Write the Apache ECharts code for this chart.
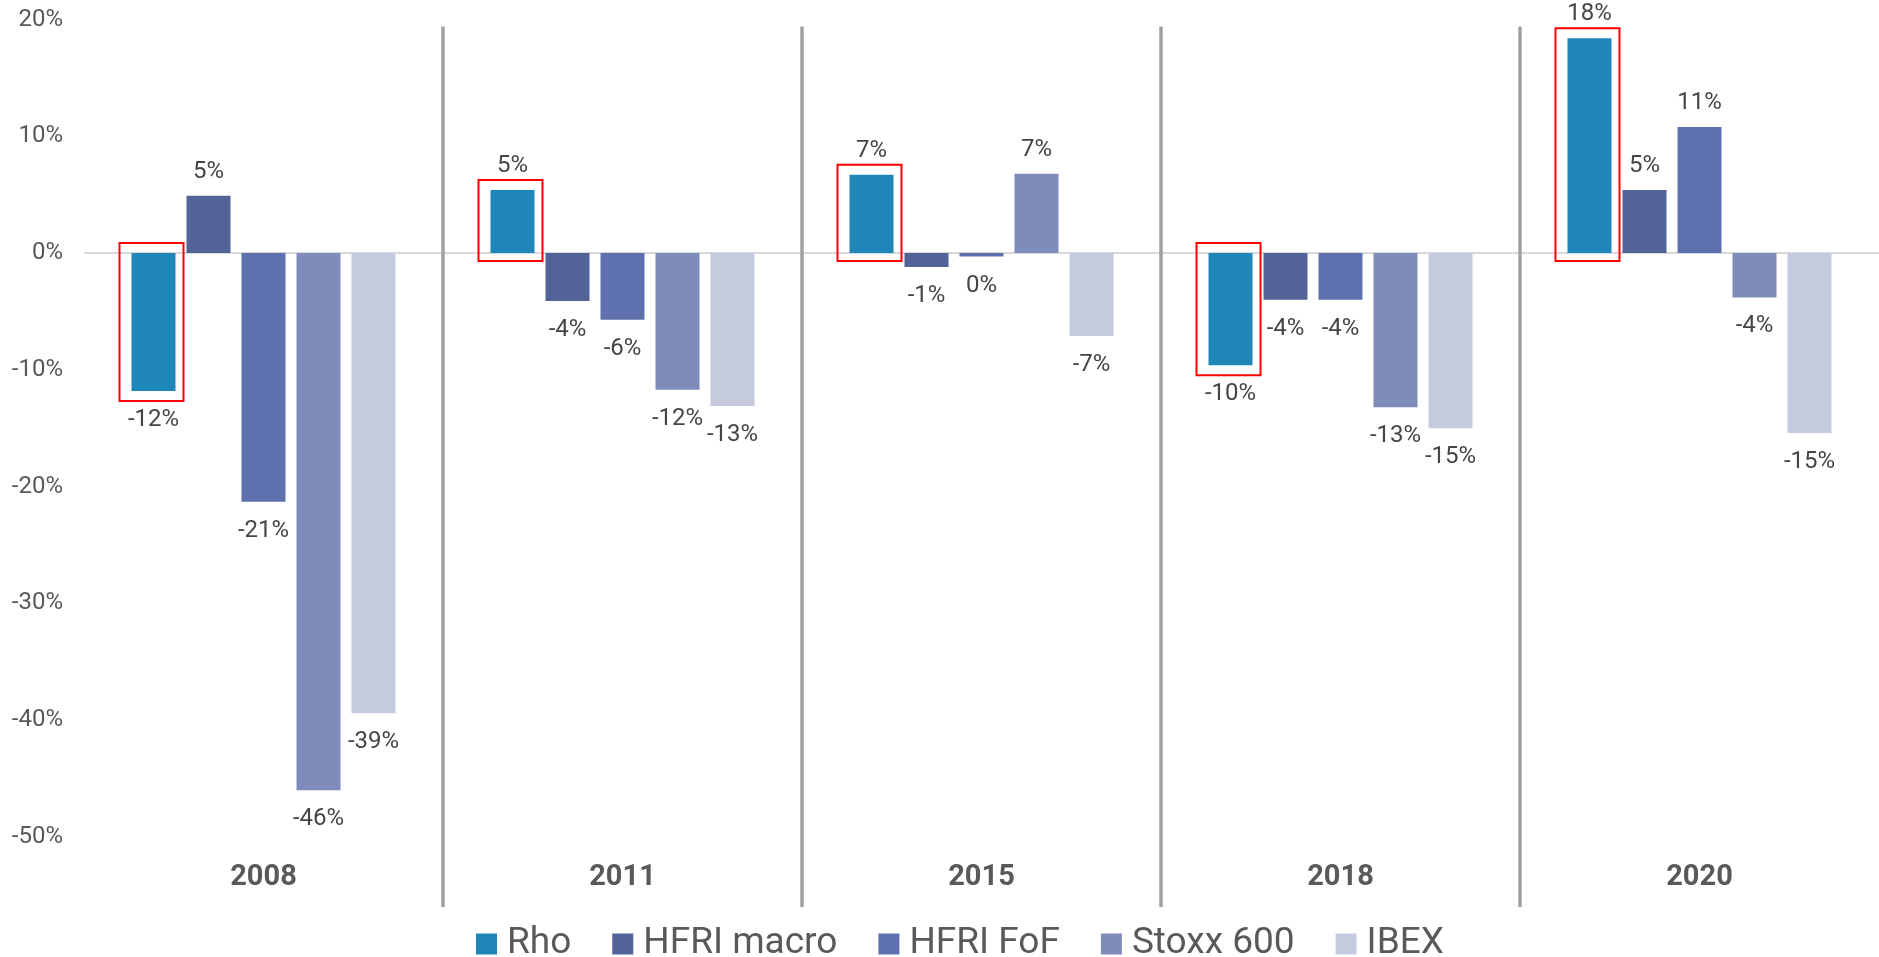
<!DOCTYPE html>
<html><head><meta charset="utf-8">
<script src="https://cdn.jsdelivr.net/npm/echarts@6/dist/echarts.min.js"></script>
<style>html,body{margin:0;padding:0;background:#fff}#c{width:1879px;height:957px}</style>
</head><body><div id="c"></div>
<script>
// ---- data ----
const categories = ['2008', '2011', '2015', '2018', '2020'];
const seriesNames = ['Rho', 'HFRI macro', 'HFRI FoF', 'Stoxx 600', 'IBEX'];
const rho       = [-11.8,  5.4,  6.7, -9.6, 18.4];
const hfriMacro = [  4.9, -4.1, -1.2, -4.0,  5.4];
const hfriFof   = [-21.3, -5.7, -0.3, -4.0, 10.8];
const stoxx600  = [-46.0,-11.7,  6.8,-13.2, -3.8];
const ibex      = [-39.4,-13.1, -7.1,-15.0,-15.4];
const yMin = -50, yMax = 20, yInterval = 10;

// ---- style ----
const colors = ['#1f87b8', '#526397', '#5e70ad', '#7f8cbb', '#c5cadf'];
const BAR_W = 44, BAR_GAP = 11;
const FONT = 'Roboto';
const values = [rho, hfriMacro, hfriFof, stoxx600, ibex];

const barSeries = values.map((arr, k) => ({
  name: seriesNames[k],
  type: 'bar',
  barWidth: BAR_W,
  barGap: (BAR_GAP / BAR_W * 100) + '%',
  itemStyle: { color: colors[k] },
  label: {
    show: true,
    formatter: p => `${Math.round(p.value)}%`,
    fontSize: 24, color: '#454545', fontFamily: FONT
  },
  data: arr.map(v => ({
    value: v,
    label: { position: v < 0 ? 'bottom' : 'top', distance: v < 0 ? 17 : 12 }
  })),
  z: 2
}));

barSeries[0].markLine = {
  silent: true, symbol: 'none', label: { show: false },
  lineStyle: { color: '#d9d9d9', width: 2, type: 'solid' },
  data: [{ yAxis: 0 }], z: 1
};

const rhoBoxes = {
  type: 'custom', name: 'rhoBox', silent: true, clip: false, z: 5,
  data: rho.map((v, i) => [i, v]),
  encode: { x: 0, y: 1 },
  renderItem: (params, api) => {
    const i = api.value(0), v = api.value(1);
    const c0 = api.coord([i, 0]);
    const c1 = api.coord([i, v]);
    const cx = c0[0] - 2 * (BAR_W + BAR_GAP);
    const x0 = cx - BAR_W / 2 - 12, x1 = cx + BAR_W / 2 + 8;
    let yTop, yBot;
    if (v >= 0) { yTop = c1[1] - 10; yBot = c0[1] + 8; }
    else { yTop = c0[1] - 10; yBot = c1[1] + 10; }
    return {
      type: 'rect',
      shape: { x: x0, y: yTop, width: x1 - x0, height: yBot - yTop },
      style: { fill: 'none', stroke: '#ff0000', lineWidth: 2 }
    };
  }
};

const separators = {
  type: 'custom', name: 'sep', silent: true, clip: false, z: 1,
  data: categories.slice(1).map((_, j) => [j + 1, yMax]),
  encode: { x: 0, y: 1 },
  renderItem: (params, api) => {
    const i = api.value(0);
    const cTop = api.coord([i, yMax]);
    const cBot = api.coord([i, yMin]);
    const band = api.size([1, 0])[0];
    const x = cTop[0] - band / 2;
    return {
      type: 'line',
      shape: { x1: x, y1: cTop[1] + 7, x2: x, y2: cBot[1] + 70 },
      style: { stroke: '#a0a0a0', lineWidth: 3.5 }
    };
  }
};

const chart = echarts.init(document.getElementById('c'), null, { renderer: 'canvas' });
chart.setOption({
  animation: false,
  backgroundColor: '#ffffff',
  grid: { left: 84, right: 0, top: 19.5, bottom: 120, containLabel: false },
  legend: {
    data: seriesNames,
    left: 476, top: 924, padding: 0,
    icon: 'rect', itemWidth: 21, itemHeight: 21, itemGap: 41,
    textStyle: { fontSize: 37, color: '#595959', fontFamily: FONT, lineHeight: 40, padding: [0, 0, 0, 5] }
  },
  xAxis: {
    type: 'category', data: categories, position: 'bottom',
    axisLine: { show: false, onZero: false },
    axisTick: { show: false },
    splitLine: { show: false },
    axisLabel: { fontSize: 29, fontWeight: 'bold', color: '#595959', fontFamily: FONT, margin: 26 }
  },
  yAxis: {
    type: 'value', min: yMin, max: yMax, interval: yInterval,
    axisLine: { show: false }, axisTick: { show: false }, splitLine: { show: false },
    axisLabel: { formatter: '{value}%', fontSize: 24, color: '#595959', fontFamily: FONT, margin: 21 }
  },
  series: [separators, ...barSeries, rhoBoxes]
});
</script>
</body></html>
